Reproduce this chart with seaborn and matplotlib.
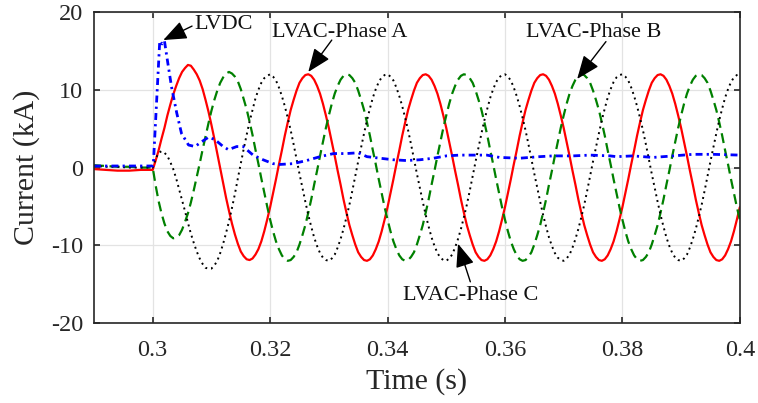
import numpy as np
import matplotlib
matplotlib.use("Agg")
import matplotlib.pyplot as plt
import seaborn as sns

# time base of the three LVAC phase currents (s): coarse before the fault, 0.5 ms after
t_pre = [0.290, 0.292, 0.294, 0.296, 0.298]
t_ac = t_pre + list(np.round(np.linspace(0.300, 0.400, 201), 5))

# LVAC phase currents (kA)
phase_a = [-0.2, -0.3, -0.4, -0.4, -0.3,
           -0.3, 0.9, 2.2, 3.7, 5.1, 6.7, 8.1, 9.4, 10.5, 11.5, 12.3, 12.8, 13.2, 13.1, 12.6, 12.0, 11.2, 10.1, 8.7, 7.2,
           5.5, 3.7, 1.8, -0.1, -2.0, -3.9, -5.6, -7.2, -8.6, -9.8, -10.8, -11.4, -11.8, -11.9, -11.7, -11.2, -10.5, -9.5, -8.2, -6.7,
           -5.1, -3.3, -1.5, 0.4, 2.2, 4.1, 5.8, 7.4, 8.7, 9.9, 10.9, 11.5, 11.9, 12.0, 11.8, 11.3, 10.5, 9.5, 8.2, 6.7,
           5.1, 3.3, 1.5, -0.4, -2.2, -4.1, -5.8, -7.4, -8.7, -9.9, -10.9, -11.5, -11.9, -12.0, -11.8, -11.3, -10.5, -9.5, -8.2, -6.7,
           -5.1, -3.3, -1.5, 0.4, 2.2, 4.1, 5.8, 7.4, 8.7, 9.9, 10.9, 11.5, 11.9, 12.0, 11.8, 11.3, 10.5, 9.5, 8.2, 6.7,
           5.1, 3.3, 1.5, -0.4, -2.2, -4.1, -5.8, -7.4, -8.7, -9.9, -10.9, -11.5, -11.9, -12.0, -11.8, -11.3, -10.5, -9.5, -8.2, -6.7,
           -5.1, -3.3, -1.5, 0.4, 2.2, 4.1, 5.8, 7.4, 8.7, 9.9, 10.9, 11.5, 11.9, 12.0, 11.8, 11.3, 10.5, 9.5, 8.2, 6.7,
           5.1, 3.3, 1.5, -0.4, -2.2, -4.1, -5.8, -7.4, -8.7, -9.9, -10.9, -11.5, -11.9, -12.0, -11.8, -11.3, -10.5, -9.5, -8.2, -6.7,
           -5.1, -3.3, -1.5, 0.4, 2.2, 4.1, 5.8, 7.4, 8.7, 9.9, 10.9, 11.5, 11.9, 12.0, 11.8, 11.3, 10.5, 9.5, 8.2, 6.7,
           5.1, 3.3, 1.5, -0.4, -2.2, -4.1, -5.8, -7.4, -8.7, -9.9, -10.9, -11.5, -11.9, -12.0, -11.8, -11.3, -10.5, -9.5, -8.2, -6.7,
           -5.1]
phase_b = [0.3, 0.2, 0.1, 0.1, 0.0,
           0.0, -2.3, -4.3, -5.9, -7.2, -8.2, -8.8, -9.1, -9.0, -8.7, -8.0, -7.0, -5.9, -4.5, -2.9, -1.2, 0.5, 2.3, 4.0, 5.7,
           7.3, 8.7, 9.9, 10.9, 11.6, 12.1, 12.3, 12.1, 11.7, 11.1, 10.1, 8.8, 7.5, 5.9, 4.2, 2.3, 0.5, -1.4, -3.2, -5.0,
           -6.7, -8.2, -9.5, -10.5, -11.3, -11.8, -12.0, -11.9, -11.5, -10.9, -9.9, -8.7, -7.4, -5.8, -4.1, -2.2, -0.4, 1.5, 3.3, 5.1,
           6.7, 8.2, 9.5, 10.5, 11.3, 11.8, 12.0, 11.9, 11.5, 10.9, 9.9, 8.7, 7.4, 5.8, 4.1, 2.2, 0.4, -1.5, -3.3, -5.1,
           -6.7, -8.2, -9.5, -10.5, -11.3, -11.8, -12.0, -11.9, -11.5, -10.9, -9.9, -8.7, -7.4, -5.8, -4.1, -2.2, -0.4, 1.5, 3.3, 5.1,
           6.7, 8.2, 9.5, 10.5, 11.3, 11.8, 12.0, 11.9, 11.5, 10.9, 9.9, 8.7, 7.4, 5.8, 4.1, 2.2, 0.4, -1.5, -3.3, -5.1,
           -6.7, -8.2, -9.5, -10.5, -11.3, -11.8, -12.0, -11.9, -11.5, -10.9, -9.9, -8.7, -7.4, -5.8, -4.1, -2.2, -0.4, 1.5, 3.3, 5.1,
           6.7, 8.2, 9.5, 10.5, 11.3, 11.8, 12.0, 11.9, 11.5, 10.9, 9.9, 8.7, 7.4, 5.8, 4.1, 2.2, 0.4, -1.5, -3.3, -5.1,
           -6.7, -8.2, -9.5, -10.5, -11.3, -11.8, -12.0, -11.9, -11.5, -10.9, -9.9, -8.7, -7.4, -5.8, -4.1, -2.2, -0.4, 1.5, 3.3, 5.1,
           6.7, 8.2, 9.5, 10.5, 11.3, 11.8, 12.0, 11.9, 11.5, 10.9, 9.9, 8.7, 7.4, 5.8, 4.1, 2.2, 0.4, -1.5, -3.3, -5.1,
           -6.7]
phase_c = [0.2, 0.1, 0.1, 0.0, 0.0,
           0.0, 1.1, 1.9, 2.1, 1.9, 1.5, 0.7, -0.2, -1.4, -2.8, -4.2, -5.6, -7.1, -8.5, -9.7, -10.8, -11.7, -12.4, -12.9, -13.0,
           -13.0, -12.6, -12.0, -11.0, -9.8, -8.4, -6.9, -5.2, -3.4, -1.4, 0.5, 2.4, 4.2, 5.9, 7.4, 8.9, 10.0, 10.9, 11.5, 11.8,
           12.0, 11.7, 11.2, 10.3, 9.2, 7.9, 6.4, 4.8, 3.0, 1.1, -0.8, -2.6, -4.4, -6.1, -7.6, -9.0, -10.1, -11.0, -11.6, -11.9,
           -12.0, -11.7, -11.2, -10.3, -9.2, -7.9, -6.4, -4.8, -3.0, -1.1, 0.8, 2.6, 4.4, 6.1, 7.6, 9.0, 10.1, 11.0, 11.6, 11.9,
           12.0, 11.7, 11.2, 10.3, 9.2, 7.9, 6.4, 4.8, 3.0, 1.1, -0.8, -2.6, -4.4, -6.1, -7.6, -9.0, -10.1, -11.0, -11.6, -11.9,
           -12.0, -11.7, -11.2, -10.3, -9.2, -7.9, -6.4, -4.8, -3.0, -1.1, 0.8, 2.6, 4.4, 6.1, 7.6, 9.0, 10.1, 11.0, 11.6, 11.9,
           12.0, 11.7, 11.2, 10.3, 9.2, 7.9, 6.4, 4.8, 3.0, 1.1, -0.8, -2.6, -4.4, -6.1, -7.6, -9.0, -10.1, -11.0, -11.6, -11.9,
           -12.0, -11.7, -11.2, -10.3, -9.2, -7.9, -6.4, -4.8, -3.0, -1.1, 0.8, 2.6, 4.4, 6.1, 7.6, 9.0, 10.1, 11.0, 11.6, 11.9,
           12.0, 11.7, 11.2, 10.3, 9.2, 7.9, 6.4, 4.8, 3.0, 1.1, -0.8, -2.6, -4.4, -6.1, -7.6, -9.0, -10.1, -11.0, -11.6, -11.9,
           -12.0, -11.7, -11.2, -10.3, -9.2, -7.9, -6.4, -4.8, -3.0, -1.1, 0.8, 2.6, 4.4, 6.1, 7.6, 9.0, 10.1, 11.0, 11.6, 11.9,
           12.0]

# LVDC current (kA), own time base
t_dc = [0.290, 0.295, 0.3000, 0.3001, 0.3007, 0.3012, 0.3016, 0.3020, 0.3024, 0.3032,
        0.3041, 0.3049, 0.3061, 0.3072, 0.3083, 0.3095, 0.3106, 0.3120, 0.3129, 0.3143,
        0.3154, 0.3171, 0.3188, 0.3205, 0.3217, 0.3239, 0.3262, 0.3285, 0.3308, 0.3330,
        0.3350, 0.3365, 0.3387, 0.3410, 0.3432, 0.3455, 0.3478, 0.3500, 0.3523, 0.3546,
        0.3569, 0.3591, 0.3625, 0.3659, 0.3682, 0.3716, 0.3745, 0.3779, 0.3790, 0.3818,
        0.3852, 0.3887, 0.3920, 0.3955, 0.4000]
i_dc = [0.2, 0.2, 0.2, 0.3, 9.0, 16.3, 15.9, 16.3, 14.3, 10.4,
        7.0, 4.4, 2.9, 2.7, 3.3, 3.9, 3.6, 2.7, 2.3, 2.7,
        2.7, 1.6, 1.0, 0.5, 0.4, 0.5, 0.9, 1.4, 1.8, 1.8,
        1.9, 1.4, 1.2, 1.0, 0.9, 1.0, 1.2, 1.5, 1.6, 1.6,
        1.6, 1.3, 1.2, 1.4, 1.5, 1.5, 1.6, 1.5, 1.4, 1.5,
        1.3, 1.5, 1.7, 1.7, 1.6]

x_ticks = [0.30, 0.32, 0.34, 0.36, 0.38, 0.40]
x_tick_labels = ["0.3", "0.32", "0.34", "0.36", "0.38", "0.4"]
y_ticks = [-20, -10, 0, 10, 20]

# annotations: label, text position, arrow tail, arrow tip (data coords)
notes = [
    ("LVDC", (0.3120, 18.4), (0.3067, 18.2), (0.3018, 16.4)),
    ("LVAC-Phase A", (0.3319, 17.4), (0.3305, 16.4), (0.3265, 12.3)),
    ("LVAC-Phase B", (0.3751, 17.4), (0.3772, 16.2), (0.3723, 11.4)),
    ("LVAC-Phase C", (0.3542, -16.5), (0.3541, -14.7), (0.3520, -9.8)),
]


def main():
    sns.set_style("ticks")
    plt.rcParams["font.family"] = ["Liberation Serif", "DejaVu Serif"]
    plt.rcParams["axes.unicode_minus"] = False

    fig = plt.figure(figsize=(7.58, 4.03), dpi=100)
    ax = fig.add_axes([0.124, 0.1985, 0.852, 0.7715])

    sns.lineplot(x=t_ac, y=phase_a, ax=ax, color="#ff0000", lw=1.6,
                 estimator=None, sort=False)
    sns.lineplot(x=t_ac, y=phase_b, ax=ax, color="#008000", lw=1.6,
                 linestyle=(0, (4.5, 2.5)), estimator=None, sort=False)
    sns.lineplot(x=t_ac, y=phase_c, ax=ax, color="#000000", lw=1.4,
                 linestyle=(0, (1, 2)), estimator=None, sort=False)
    sns.lineplot(x=t_dc, y=i_dc, ax=ax, color="#0000ff", lw=2.0,
                 linestyle=(0, (2.5, 1.5, 0.8, 1.5)), estimator=None, sort=False)

    ax.set_xlim(0.29, 0.40)
    ax.set_ylim(-20, 20)
    ax.set_xticks(x_ticks)
    ax.set_xticklabels(x_tick_labels)
    ax.set_yticks(y_ticks)
    ax.grid(True, color="#e3e3e3", lw=0.9)
    ax.set_axisbelow(True)

    for sp in ax.spines.values():
        sp.set_color("#262626")
        sp.set_linewidth(1.2)
    ax.tick_params(direction="in", length=4, width=1.2, top=True, right=True,
                   labelsize=17.5, colors="#262626", labelcolor="#262626")
    ax.tick_params(axis="x", pad=12)
    ax.tick_params(axis="y", pad=8)

    ax.set_xlabel("Time (s)", fontsize=21.5, color="#262626")
    ax.set_ylabel("Current (kA)", fontsize=21.5, color="#262626")
    ax.xaxis.set_label_coords(0.5, -0.145)
    ax.yaxis.set_label_coords(-0.083, 0.5)

    for label, txt, tail, tip in notes:
        ax.text(txt[0], txt[1], label, fontsize=16, ha="center", va="center",
                color="#111111")
        ax.annotate("", xy=tip, xytext=tail,
                    arrowprops=dict(arrowstyle="-|>,head_length=0.8,head_width=0.32",
                                    color="black", lw=1.0, mutation_scale=18,
                                    shrinkA=0, shrinkB=0))

    fig.savefig("out.png", dpi=100)


if __name__ == "__main__":
    main()
